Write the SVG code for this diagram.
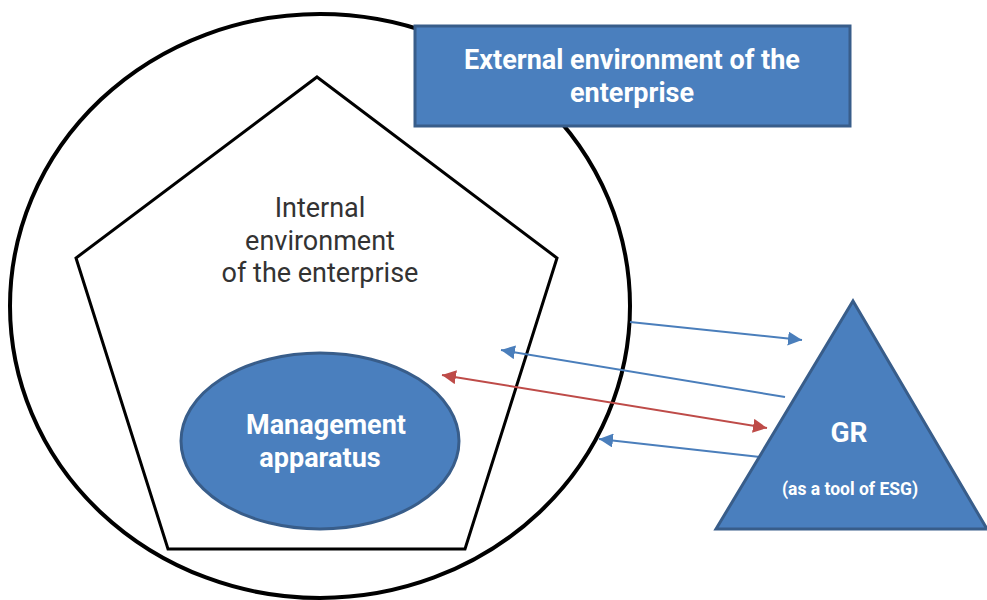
<svg xmlns="http://www.w3.org/2000/svg" width="987" height="600" viewBox="0 0 987 600">
<style>
.blk{fill:none;stroke:#000;}
.node{fill:#4a7fbe;stroke:#385d8a;stroke-width:3;}
.wt{fill:#fff;font-family:Roboto,"Liberation Sans",sans-serif;font-weight:bold;text-anchor:middle;}
.dk{fill:#333;font-family:Roboto,"Liberation Sans",sans-serif;font-size:27px;text-anchor:middle;}
.ab{stroke:#4a7ebb;stroke-width:2;fill:none;}
.ar{stroke:#be4b48;stroke-width:2;fill:none;}
</style>
<defs>
<marker id="mb" viewBox="0 0 10 10" refX="10" refY="5" markerWidth="7" markerHeight="7" orient="auto-start-reverse" markerUnits="strokeWidth"><path d="M0,0 L10,5 L0,10 Z" fill="#4a7ebb"/></marker>
<marker id="mr" viewBox="0 0 10 10" refX="10" refY="5" markerWidth="7" markerHeight="7" orient="auto-start-reverse" markerUnits="strokeWidth"><path d="M0,0 L10,5 L0,10 Z" fill="#be4b48"/></marker>
</defs>
<rect width="987" height="600" fill="#fff"/>
<g id="outer">
<ellipse class="blk" cx="320" cy="306" rx="310" ry="292" stroke-width="4"/>
</g>
<g id="internal">
<polygon class="blk" points="317,77 557,258 465,549 168,549 76,258" stroke-width="3"/>
<text class="dk" x="320" y="217">Internal</text>
<text class="dk" x="320" y="250">environment</text>
<text class="dk" x="320" y="282">of the enterprise</text>
</g>
<g id="management">
<ellipse class="node" cx="320" cy="441" rx="139" ry="88"/>
<text class="wt" x="326" y="434" font-size="27">Management</text>
<text class="wt" x="320" y="467" font-size="27">apparatus</text>
</g>
<g id="external">
<rect class="node" x="415" y="26" width="435" height="100"/>
<text class="wt" x="632" y="69" font-size="27">External environment of the</text>
<text class="wt" x="632" y="102" font-size="27">enterprise</text>
</g>
<g id="connectors">
<line class="ab" x1="630" y1="322" x2="802" y2="340" marker-end="url(#mb)"/>
<line class="ab" x1="785" y1="397" x2="501" y2="350" marker-end="url(#mb)"/>
<line class="ar" x1="442" y1="375" x2="767" y2="428" marker-start="url(#mr)" marker-end="url(#mr)"/>
<line class="ab" x1="760" y1="457" x2="599" y2="439" marker-end="url(#mb)"/>
</g>
<g id="gr">
<polygon class="node" points="853,301 987,529 716,529"/>
<text class="wt" x="849" y="442" font-size="28">GR</text>
<text class="wt" x="850" y="495" font-size="17.5">(as a tool of ESG)</text>
</g>
</svg>
